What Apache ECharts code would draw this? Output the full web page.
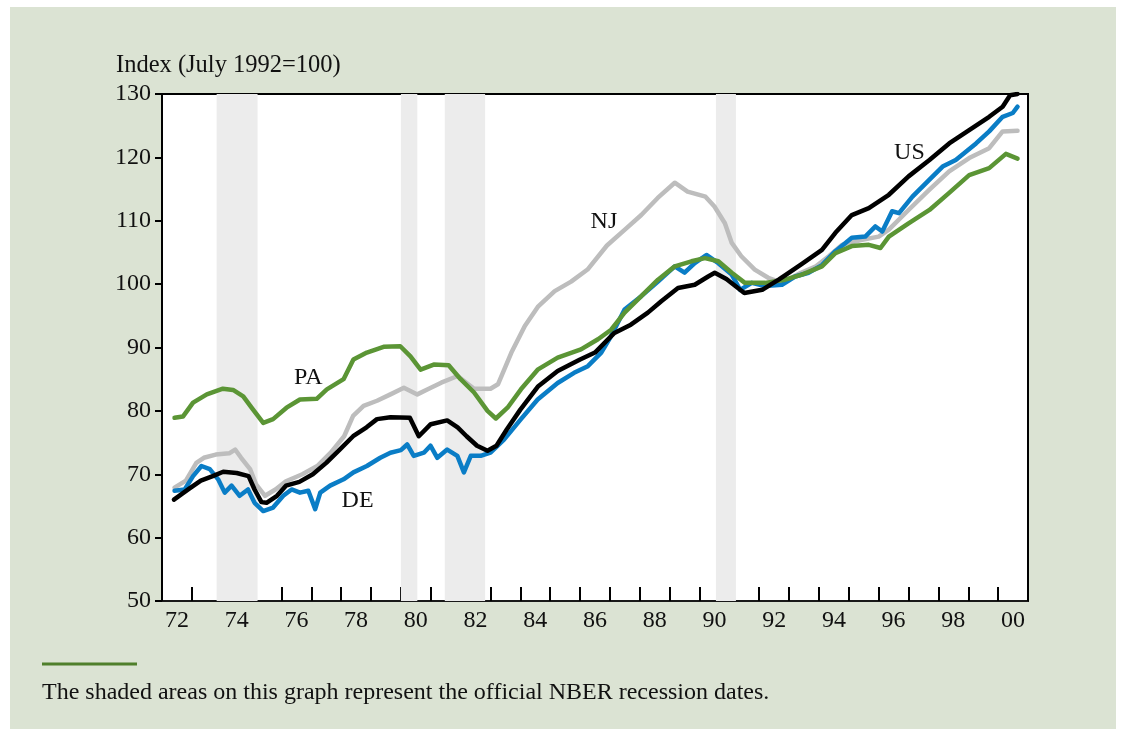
<!DOCTYPE html>
<html>
<head>
<meta charset="utf-8">
<script src="https://cdn.jsdelivr.net/npm/echarts@6/dist/echarts.min.js"></script>
<style>
  html, body { margin: 0; padding: 0; background: #fff; }
  #chart { width: 1126px; height: 736px; }
</style>
</head>
<body>
<div id="chart"></div>
<script>
// tick labels on the bottom axis (one band per year, 1972-2000)
const yearLabels = ['72','73','74','75','76','77','78','79','80','81','82','83','84','85','86',
  '87','88','89','90','91','92','93','94','95','96','97','98','99','00']

// NBER recessions [start, end] in years
const recessions = [[1973.83, 1975.2], [1980.0, 1980.55], [1981.47, 1982.82], [1990.55, 1991.22]]

// index values [year, index]
const usData = [[1972.4,66.0],[1972.9,67.7],[1973.3,69.0],[1973.7,69.7],[1974.05,70.4],[1974.5,70.2],
  [1974.9,69.7],[1975.1,67.6],[1975.33,65.6],[1975.5,65.5],[1975.85,66.6],[1976.15,68.2],[1976.6,68.8],
  [1977.05,70.0],[1977.5,71.8],[1977.95,73.9],[1978.4,76.0],[1978.85,77.4],[1979.2,78.7],[1979.65,79.0],
  [1980.3,78.9],[1980.6,76.0],[1981.0,77.9],[1981.55,78.5],[1981.9,77.4],[1982.2,76.0],[1982.55,74.5],
  [1982.9,73.7],[1983.2,74.5],[1983.55,77.1],[1984.0,80.2],[1984.6,83.9],[1985.25,86.3],[1986.0,88.1],
  [1986.5,89.2],[1987.15,92.3],[1987.7,93.6],[1988.27,95.5],[1988.72,97.3],[1989.28,99.4],[1989.84,99.9],
  [1990.29,101.2],[1990.51,101.8],[1990.9,100.8],[1991.2,99.7],[1991.5,98.6],[1992.1,99.1],[1992.65,100.7],
  [1992.9,101.5],[1993.43,103.2],[1994.1,105.4],[1994.55,108.1],[1995.1,110.9],[1995.67,112.0],
  [1996.34,114.1],[1997.0,117.0],[1997.7,119.6],[1998.36,122.2],[1999.03,124.3],[1999.7,126.4],
  [2000.15,128.0],[2000.4,129.8],[2000.65,130.0]]

const njData = [[1972.42,67.9],[1972.8,69.0],[1973.15,71.8],[1973.4,72.6],[1973.8,73.1],[1974.25,73.3],
  [1974.45,73.9],[1974.65,72.6],[1974.95,70.8],[1975.15,68.4],[1975.45,66.6],[1975.8,67.6],[1976.15,68.9],
  [1976.7,70.0],[1977.2,71.3],[1977.65,73.4],[1978.1,76.0],[1978.4,79.2],[1978.75,80.8],[1979.2,81.6],
  [1979.65,82.6],[1980.1,83.65],[1980.55,82.6],[1980.9,83.4],[1981.35,84.45],[1981.9,85.5],[1982.45,83.5],
  [1983.0,83.5],[1983.25,84.2],[1983.7,89.2],[1984.15,93.4],[1984.6,96.5],[1985.15,98.9],[1985.7,100.4],
  [1986.25,102.3],[1986.9,106.1],[1987.5,108.6],[1988.05,110.9],[1988.6,113.6],[1989.17,116.0],
  [1989.6,114.6],[1990.2,113.8],[1990.5,112.25],[1990.85,109.6],[1991.08,106.5],[1991.4,104.4],
  [1991.85,102.3],[1992.3,101.0],[1992.65,100.4],[1993.0,100.8],[1993.4,101.8],[1993.9,102.8],
  [1994.33,104.4],[1994.77,106.2],[1995.45,107.0],[1996.0,107.5],[1996.34,108.6],[1997.0,111.7],
  [1997.7,114.9],[1998.36,117.8],[1999.03,119.9],[1999.7,121.45],[2000.15,124.1],[2000.65,124.2]]

const paData = [[1972.42,78.9],[1972.7,79.1],[1973.04,81.3],[1973.5,82.6],[1974.04,83.5],[1974.38,83.3],
  [1974.72,82.3],[1975.05,80.2],[1975.39,78.1],[1975.72,78.7],[1976.17,80.5],[1976.62,81.8],[1977.18,81.9],
  [1977.52,83.4],[1978.08,85.0],[1978.41,88.1],[1978.86,89.2],[1979.42,90.1],[1979.98,90.2],[1980.32,88.6],
  [1980.66,86.5],[1981.1,87.3],[1981.6,87.2],[1982.0,85.0],[1982.45,82.9],[1982.9,80.0],[1983.18,78.8],
  [1983.57,80.5],[1984.02,83.4],[1984.58,86.5],[1985.25,88.4],[1986.03,89.7],[1986.6,91.3],[1987.04,92.8],
  [1987.49,95.5],[1988.05,98.1],[1988.61,100.7],[1989.17,102.8],[1989.73,103.6],[1990.18,104.1],
  [1990.63,103.6],[1991.08,101.8],[1991.52,100.2],[1992.2,100.2],[1992.87,100.7],[1993.43,101.5],
  [1994.1,102.8],[1994.55,104.9],[1995.1,106.0],[1995.67,106.2],[1996.06,105.7],[1996.34,107.5],
  [1997.0,109.6],[1997.7,111.7],[1998.36,114.4],[1999.03,117.2],[1999.7,118.3],[2000.26,120.55],[2000.65,119.8]]

const deData = [[1972.42,67.4],[1972.76,67.6],[1973.04,69.7],[1973.32,71.3],[1973.6,70.8],[1973.88,69.2],
  [1974.1,67.1],[1974.33,68.2],[1974.6,66.6],[1974.88,67.6],[1975.1,65.5],[1975.39,64.2],[1975.72,64.75],
  [1976.06,66.6],[1976.34,67.6],[1976.62,67.1],[1976.9,67.4],[1977.13,64.5],[1977.3,67.1],[1977.63,68.2],
  [1978.08,69.2],[1978.41,70.3],[1978.86,71.3],[1979.31,72.6],[1979.65,73.4],[1980.0,73.8],[1980.21,74.7],
  [1980.43,72.9],[1980.77,73.4],[1980.99,74.5],[1981.22,72.6],[1981.55,73.9],[1981.89,72.9],[1982.11,70.3],
  [1982.34,72.9],[1982.67,72.9],[1983.0,73.4],[1983.46,75.5],[1984.02,78.7],[1984.58,81.8],[1985.25,84.4],
  [1985.8,86.0],[1986.26,87.05],[1986.71,89.2],[1987.04,91.8],[1987.49,96.0],[1988.05,98.1],[1988.61,100.4],
  [1989.17,102.8],[1989.5,101.8],[1989.84,103.3],[1990.23,104.6],[1990.63,103.3],[1991.08,101.5],
  [1991.36,99.1],[1991.75,100.2],[1992.2,99.7],[1992.76,99.9],[1993.2,101.2],[1993.65,101.8],[1994.1,103.0],
  [1994.55,105.2],[1995.1,107.3],[1995.55,107.5],[1995.89,109.1],[1996.12,108.3],[1996.45,111.5],
  [1996.68,111.2],[1997.13,113.8],[1997.7,116.5],[1998.14,118.55],[1998.58,119.6],[1999.26,122.2],
  [1999.7,124.1],[2000.15,126.4],[2000.49,127.0],[2000.65,128.0]]

// where the state names sit, in [year, index]
const nameSpots = { PA: [1976.9, 85.3], NJ: [1986.8, 109.8], US: [1997.03, 120.7], DE: [1978.55, 65.9] }

const serif = '"Liberation Serif", "DejaVu Serif", serif'

function lineSeries (name, data, color) {
  return {
    name: name,
    type: 'line',
    xAxisIndex: 1,
    data: data,
    showSymbol: false,
    silent: true,
    lineStyle: { color: color, width: 4.5, join: 'round', cap: 'round' },
    markPoint: {
      symbol: 'circle',
      symbolSize: 0,
      silent: true,
      data: [{ coord: nameSpots[name] }],
      label: { show: true, position: 'inside', formatter: name, color: '#111', fontFamily: serif, fontSize: 24 }
    }
  }
}

const myCharts = echarts.init(document.getElementById('chart'))
myCharts.setOption({
  animation: false,
  backgroundColor: '#fff',
  graphic: [
    { type: 'rect', z: -10, shape: { x: 10, y: 7, width: 1106, height: 722 }, style: { fill: '#dbe3d3' } },
    { type: 'text', left: 116, top: 53, style: { text: 'Index (July 1992=100)', font: '24.5px ' + serif, fill: '#111' } },
    { type: 'line', shape: { x1: 42, y1: 664, x2: 137, y2: 664 }, style: { stroke: '#4f7f2b', lineWidth: 3 } },
    { type: 'text', left: 42, top: 681, style: { text: 'The shaded areas on this graph represent the official NBER recession dates.', font: '24px ' + serif, fill: '#111' } }
  ],
  grid: {
    left: 162, right: 98, top: 94, bottom: 135,
    show: true, backgroundColor: '#fff', borderColor: '#000', borderWidth: 2
  },
  xAxis: [
    {
      type: 'category',
      data: yearLabels,
      boundaryGap: true,
      axisLine: { show: true, lineStyle: { color: '#222', width: 1.5 } },
      axisTick: { show: true, inside: true, length: 14, interval: 0, lineStyle: { color: '#000', width: 2 } },
      axisLabel: { interval: 1, color: '#111', fontFamily: serif, fontSize: 24, margin: 8 }
    },
    { type: 'value', min: 1972, max: 2001, show: false }
  ],
  yAxis: {
    type: 'value',
    min: 50, max: 130, interval: 10,
    axisLine: { show: true, lineStyle: { color: '#000', width: 2 } },
    axisTick: { show: true, length: 7, lineStyle: { color: '#000', width: 2 } },
    axisLabel: { color: '#111', fontFamily: serif, fontSize: 24, margin: 11 },
    splitLine: { show: false }
  },
  series: [
    {
      //recession shading
      type: 'line',
      xAxisIndex: 1,
      data: [],
      silent: true,
      markArea: {
        silent: true,
        itemStyle: { color: '#ececec' },
        data: recessions.map(r => [{ xAxis: r[0] }, { xAxis: r[1] }])
      }
    },
    lineSeries('NJ', njData, '#bdbdbd'),
    lineSeries('DE', deData, '#0a7dc6'),
    lineSeries('PA', paData, '#5b9535'),
    lineSeries('US', usData, '#000')
  ]
})
</script>
</body>
</html>
